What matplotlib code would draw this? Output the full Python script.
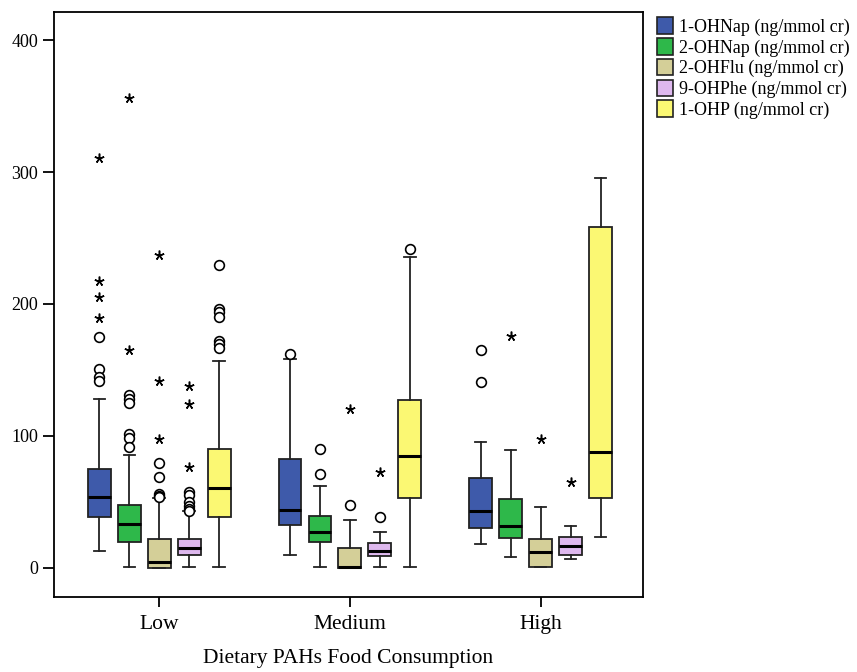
import matplotlib
matplotlib.use("Agg")
import matplotlib.pyplot as plt
from matplotlib.patches import Patch

plt.rcParams['font.family'] = ['Liberation Serif', 'DejaVu Serif']

groups = ["Low", "Medium", "High"]
series = ["1-OHNap (ng/mmol cr)", "2-OHNap (ng/mmol cr)", "2-OHFlu (ng/mmol cr)",
          "9-OHPhe (ng/mmol cr)", "1-OHP (ng/mmol cr)"]
colors = ["#3E5AAA", "#2EB84A", "#D4CF98", "#DEB8EE", "#FBF873"]

# per series: [Low, Medium, High]
whislo = [[12.4, 9.4, 18.2], [0.3, 0.5, 8.1], [0, 0, 0.5], [0.5, 0.5, 6.6], [0.5, 0.5, 23]]
q1 = [[38.5, 32.1, 30.1], [19.7, 19.2, 22.5], [0, 0, 0.5], [9.9, 8.6, 9.9], [38.2, 52.4, 52.4]]
med = [[53.4, 44.0, 43.0], [32.9, 27.1, 31.4], [4.6, 0.5, 12.1], [15.0, 12.9, 16.2], [60.7, 84.5, 87.8]]
q3 = [[75.0, 82.5, 67.8], [47.3, 39.2, 52.1], [21.5, 14.9, 21.8], [22.0, 18.7, 23.3], [89.6, 126.8, 258.3]]
whishi = [[128, 158.4, 95.6], [85.3, 61.7, 89.3], [53, 35.9, 46.3], [43, 26.8, 31.4], [156.6, 235.5, 295.8]]
circles = [
    [[175, 151, 144.5, 141.4], [161.7], [165, 141]],
    [[131, 127.5, 124.5, 101.5, 98.4, 91.3], [89.8, 71.3], []],
    [[79, 68.8, 56, 54.5, 53.8], [47.3], []],
    [[57.4, 55, 50, 46.5, 44.5, 42.8], [38.2], []],
    [[229.5, 195.8, 193.5, 190.3, 171.8, 169.3, 166.7], [241.9], []],
]
stars = [
    [[311, 217, 205, 189], [], []],
    [[356.5, 165], [], [176]],
    [[237, 141.4, 97.7], [120.4], [97.7]],
    [[138, 124, 76], [72.3], [64.8]],
    [[], [], []],
]

offset = 0.157
width = 0.12

fig = plt.figure(figsize=(8.57, 6.72), dpi=100)
ax = fig.add_axes([54.3 / 857, (672 - 596.7) / 672, (642.7 - 54.3) / 857, (596.7 - 12.3) / 672])

for s in range(len(series)):
    stats = []
    pos = []
    for g in range(len(groups)):
        stats.append(dict(whislo=whislo[s][g], q1=q1[s][g], med=med[s][g], q3=q3[s][g],
                          whishi=whishi[s][g], fliers=[]))
        pos.append(g + (s - 2) * offset)
    ax.bxp(stats, positions=pos, widths=width, patch_artist=True, showfliers=False,
           boxprops=dict(facecolor=colors[s], edgecolor='#222222', linewidth=1.3),
           medianprops=dict(color='black', linewidth=2.2),
           whiskerprops=dict(color='#222222', linewidth=1.3),
           capprops=dict(color='#222222', linewidth=1.3),
           capwidths=width * 0.5, manage_ticks=False)
    for g in range(len(groups)):
        x = g + (s - 2) * offset
        if circles[s][g]:
            ax.plot([x] * len(circles[s][g]), circles[s][g], linestyle='none', marker='o',
                    markersize=7, markerfacecolor='white', markeredgecolor='black',
                    markeredgewidth=1.2, zorder=5)
        if stars[s][g]:
            ax.plot([x] * len(stars[s][g]), stars[s][g], linestyle='none', marker=(5, 2, 0),
                    markersize=7, markeredgewidth=1.1, color='black', zorder=5)

ax.set_xlim(-0.55, 2.535)
ax.set_ylim(-22.1, 421.2)
ax.set_xticks(range(len(groups)))
ax.set_xticklabels(groups, fontsize=15.5)
ax.set_yticks([0, 100, 200, 300, 400])
ax.tick_params(axis='y', labelsize=13, length=8, width=1.3, direction='out')
ax.tick_params(axis='x', length=7, width=1.3, direction='out', pad=6)
for sp in ax.spines.values():
    sp.set_linewidth(1.3)
ax.set_xlabel("Dietary PAHs Food Consumption", fontsize=15.5, labelpad=11)

handles = [Patch(facecolor=colors[i], edgecolor='#222222', linewidth=1.2, label=series[i])
           for i in range(len(series))]
fig.legend(handles=handles, loc='upper left', bbox_to_anchor=(650 / 857, 1 - 10 / 672),
           frameon=False, fontsize=13, handlelength=0.9, handleheight=1.05,
           handletextpad=0.3, labelspacing=0.12, borderaxespad=0)

fig.savefig("out.png", dpi=100)
